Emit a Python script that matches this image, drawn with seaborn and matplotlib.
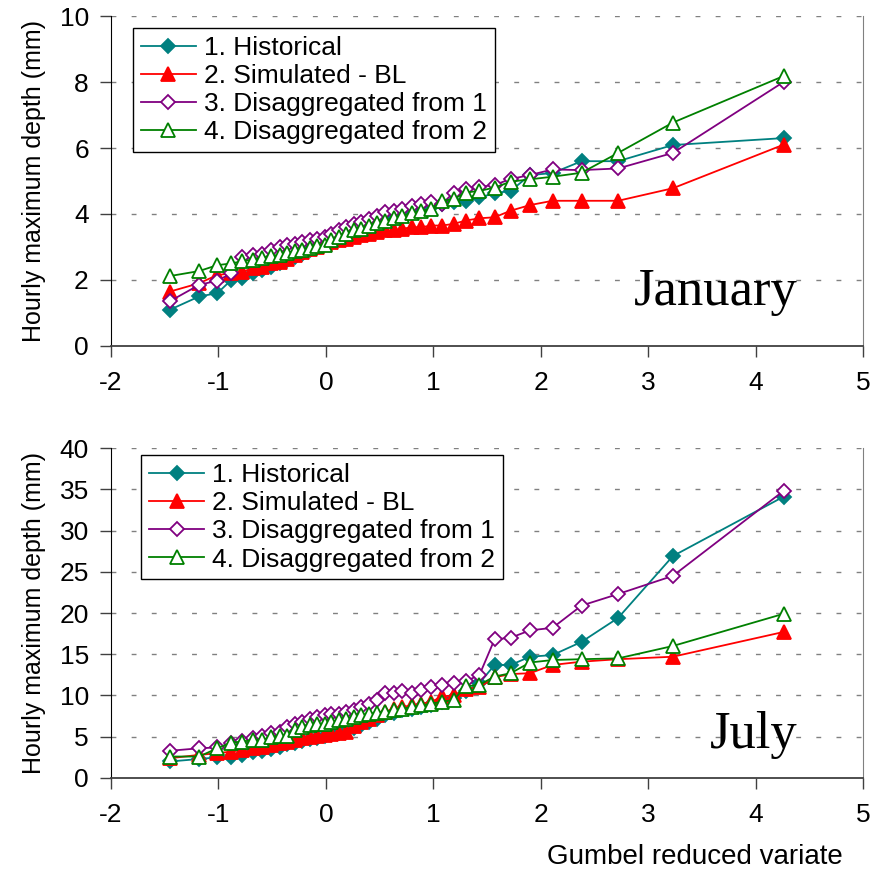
"""
Gumbel plot of hourly maximum rainfall depth, January and July:
historical, simulated (BL) and the two disaggregated series.
"""

import matplotlib
matplotlib.use("Agg")
import matplotlib.pyplot as plt
import seaborn as sns
import pandas as pd

# ── Data ─────────────────────────────────────────────────────────────────────
# Gumbel reduced variate of the 40 ranked values
GUMBEL_X = [-1.45, -1.18, -1.01, -0.88, -0.78, -0.68, -0.59, -0.51, -0.43, -0.36,
            -0.29, -0.22, -0.15, -0.08, -0.01, 0.05, 0.12, 0.19, 0.26, 0.33,
            0.40, 0.48, 0.55, 0.63, 0.71, 0.80, 0.89, 0.98, 1.08, 1.19,
            1.30, 1.43, 1.57, 1.72, 1.90, 2.11, 2.38, 2.72, 3.23, 4.26]

SERIES_NAMES = ["1. Historical", "2. Simulated - BL",
                "3. Disaggregated from 1", "4. Disaggregated from 2"]

JAN_HIST = [1.1, 1.5, 1.6, 2.0, 2.05, 2.2, 2.3, 2.4, 2.5, 2.6,
            2.7, 2.8, 2.9, 3.0, 3.1, 3.2, 3.3, 3.4, 3.5, 3.6,
            3.7, 3.8, 3.9, 4.0, 4.05, 4.1, 4.15, 4.2, 4.3, 4.35,
            4.4, 4.5, 4.63, 4.7, 5.18, 5.24, 5.6, 5.6, 6.09, 6.3]
JAN_SIM = [1.65, 1.9, 2.15, 2.2, 2.25, 2.35, 2.4, 2.5, 2.55, 2.65,
           2.75, 2.85, 2.95, 3.0, 3.1, 3.15, 3.2, 3.25, 3.3, 3.35,
           3.4, 3.45, 3.5, 3.5, 3.55, 3.6, 3.6, 3.65, 3.65, 3.7,
           3.8, 3.87, 3.9, 4.1, 4.27, 4.4, 4.4, 4.4, 4.78, 6.1]
JAN_DIS1 = [1.36, 1.85, 1.98, 2.2, 2.7, 2.75, 2.8, 2.9, 3.0, 3.05,
            3.1, 3.15, 3.2, 3.25, 3.3, 3.4, 3.5, 3.6, 3.7, 3.75,
            3.85, 3.95, 4.05, 4.1, 4.15, 4.24, 4.3, 4.35, 4.3, 4.65,
            4.75, 4.82, 4.88, 5.06, 5.18, 5.35, 5.33, 5.38, 5.85, 8.0]
JAN_DIS2 = [2.12, 2.27, 2.45, 2.5, 2.57, 2.62, 2.67, 2.72, 2.77, 2.82,
            2.87, 2.92, 2.97, 3.02, 3.07, 3.2, 3.3, 3.4, 3.5, 3.55,
            3.65, 3.72, 3.8, 3.88, 3.95, 4.02, 4.1, 4.15, 4.4, 4.45,
            4.65, 4.7, 4.8, 4.98, 5.05, 5.13, 5.25, 5.85, 6.77, 8.18]

JUL_HIST = [2.0, 2.3, 2.5, 2.6, 2.8, 3.1, 3.3, 3.5, 3.8, 4.1,
            4.3, 4.5, 4.7, 4.9, 5.1, 5.3, 5.5, 5.8, 6.1, 6.4,
            6.8, 7.2, 7.6, 7.9, 8.2, 8.4, 8.6, 8.8, 9.2, 9.7,
            10.5, 11.5, 13.7, 13.7, 14.7, 14.9, 16.5, 19.4, 26.9, 34.1]
JUL_SIM = [2.4, 2.8, 3.0, 3.2, 3.4, 3.6, 3.8, 4.0, 4.2, 4.4,
           4.6, 4.8, 5.0, 5.1, 5.2, 5.3, 5.4, 5.6, 6.3, 6.8,
           7.2, 7.6, 8.0, 8.4, 8.6, 8.8, 9.0, 9.2, 9.9, 10.0,
           10.8, 11.0, 12.2, 12.6, 12.7, 13.7, 14.1, 14.4, 14.7, 17.7]
JUL_DIS1 = [3.3, 3.6, 3.7, 4.2, 4.5, 4.8, 5.1, 5.4, 5.6, 6.2,
            6.5, 6.8, 7.1, 7.4, 7.6, 7.7, 7.8, 8.0, 8.2, 8.6,
            9.0, 9.5, 10.3, 10.3, 10.5, 10.3, 10.7, 11.0, 11.3, 11.5,
            11.7, 12.5, 16.8, 17.0, 17.9, 18.2, 20.9, 22.3, 24.5, 34.8]
JUL_DIS2 = [2.6, 2.6, 3.6, 4.3, 4.4, 4.6, 4.6, 5.0, 5.1, 5.1,
            5.8, 6.2, 6.4, 6.5, 6.6, 6.8, 7.0, 7.2, 7.4, 7.6,
            7.8, 7.9, 8.0, 8.2, 8.4, 8.6, 8.8, 9.0, 9.25, 9.45,
            11.1, 11.3, 12.3, 12.7, 14.0, 14.3, 14.4, 14.5, 16.0, 19.9]

# ── Style ────────────────────────────────────────────────────────────────────
STYLES = [
    dict(color="#008080", marker="D", markersize=7, markerfacecolor="#008080"),
    dict(color="#FF0000", marker="^", markersize=9.5, markerfacecolor="#FF0000"),
    dict(color="#800080", marker="D", markersize=7.5, markerfacecolor="white"),
    dict(color="#008000", marker="^", markersize=10, markerfacecolor="white"),
]

plt.rcParams["font.family"] = ["Liberation Sans", "DejaVu Sans"]
plt.rcParams["axes.unicode_minus"] = False


def draw_panel(ax, series, ymax, ystep, month, month_xy, legend_anchor):
    for name, values, st in zip(SERIES_NAMES, series, STYLES):
        df = pd.DataFrame({"x": GUMBEL_X, "y": values})
        sns.lineplot(data=df, x="x", y="y", ax=ax, sort=False,
                     color=st["color"], marker=st["marker"],
                     markersize=st["markersize"],
                     markerfacecolor=st["markerfacecolor"],
                     markeredgecolor=st["color"], markeredgewidth=1.3,
                     linewidth=1.3, label=name)

    ax.set_xlim(-2, 5)
    ax.set_ylim(0, ymax)
    ax.set_xticks(range(-2, 6))
    ax.set_yticks(range(0, ymax + 1, ystep))
    ax.set_xlabel("")
    ax.set_ylabel("Hourly maximum depth (mm)", fontsize=18, labelpad=10)
    ax.tick_params(axis="both", direction="out", length=8, width=1,
                   labelsize=19, color="#404040")
    ax.tick_params(axis="x", pad=10)
    ax.tick_params(axis="y", pad=8)

    for v in range(ystep, ymax + 1, ystep):
        ax.axhline(v, color="#808080", lw=1.0, ls=(0, (3.5, 11)), zorder=0)

    ax.spines["top"].set_visible(False)
    ax.spines["right"].set_color("#808080")
    ax.spines["left"].set_color("black")
    ax.spines["bottom"].set_color("#404040")
    ax.spines["bottom"].set_linewidth(1.3)

    ax.text(month_xy[0], month_xy[1], month, fontsize=38, ha="right",
            va="baseline", family=["Liberation Serif", "DejaVu Serif"])

    leg = ax.legend(loc="upper left", bbox_to_anchor=legend_anchor,
                    borderaxespad=0, fontsize=19, frameon=True,
                    fancybox=False, edgecolor="black", framealpha=1,
                    handlelength=2.1, handletextpad=0.3, labelspacing=0.16,
                    borderpad=0.3)
    leg.get_frame().set_linewidth(1.0)


fig = plt.figure(figsize=(8.72, 8.71), dpi=100)
ax1 = fig.add_axes([0.1273, 0.6028, 0.8624, 0.3788])
ax2 = fig.add_axes([0.1273, 0.1068, 0.8624, 0.3788])

draw_panel(ax1, [JAN_HIST, JAN_SIM, JAN_DIS1, JAN_DIS2], 10, 2,
           "January", (4.39, 1.24), (0.029, 0.964))
draw_panel(ax2, [JUL_HIST, JUL_SIM, JUL_DIS1, JUL_DIS2], 40, 5,
           "July", (4.39, 3.6), (0.040, 0.979))

ax2.set_xlabel("Gumbel reduced variate", fontsize=20)
ax2.xaxis.set_label_coords(0.777, -0.2)

fig.savefig("out.png", dpi=100)
